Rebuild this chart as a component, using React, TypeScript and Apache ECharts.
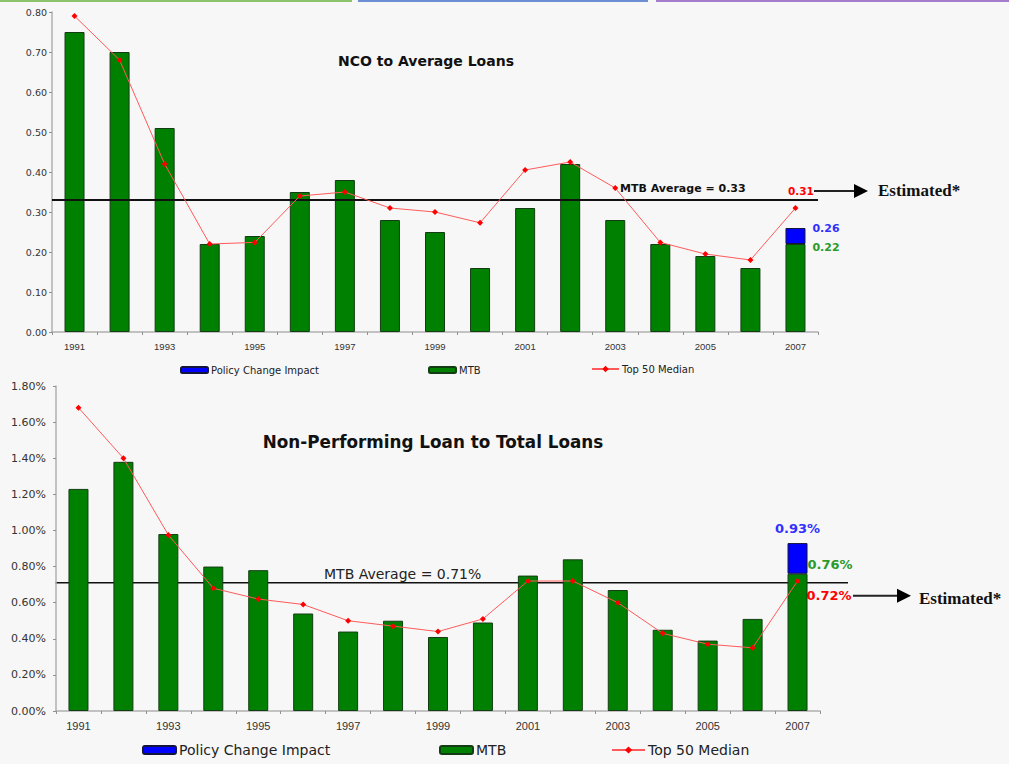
import React, { useEffect, useRef } from "react";
import * as echarts from "echarts";

const years = ["1991", "1992", "1993", "1994", "1995", "1996", "1997", "1998", "1999", "2000", "2001", "2002", "2003", "2004", "2005", "2006", "2007"];

// NCO to Average Loans
const ncoMTB = [0.75, 0.70, 0.51, 0.22, 0.24, 0.35, 0.38, 0.28, 0.25, 0.16, 0.31, 0.42, 0.28, 0.22, 0.19, 0.16, 0.22];
const ncoPolicy = [null, null, null, null, null, null, null, null, null, null, null, null, null, null, null, null, 0.04];
const ncoTop50 = [0.79, 0.68, 0.42, 0.22, 0.224, 0.34, 0.35, 0.31, 0.30, 0.273, 0.405, 0.425, 0.36, 0.224, 0.195, 0.18, 0.31];
const ncoAverage = 0.33;
const ncoLabels = { average: "MTB Average = 0.33", top50: "0.31", total: "0.26", mtb: "0.22" };

// Non-Performing Loan to Total Loans (percent)
const npaMTB = [1.23, 1.38, 0.98, 0.80, 0.78, 0.54, 0.44, 0.50, 0.41, 0.49, 0.75, 0.84, 0.67, 0.45, 0.39, 0.51, 0.76];
const npaPolicy = [null, null, null, null, null, null, null, null, null, null, null, null, null, null, null, null, 0.17];
const npaTop50 = [1.68, 1.40, 0.975, 0.68, 0.62, 0.59, 0.50, 0.47, 0.44, 0.51, 0.72, 0.72, 0.60, 0.43, 0.37, 0.35, 0.72];
const npaAverage = 0.71;
const npaLabels = { average: "MTB Average = 0.71%", top50: "0.72%", total: "0.93%", mtb: "0.76%" };

const titles = ["NCO to Average Loans", "Non-Performing Loan to Total Loans"];
const seriesNames = ["Policy Change Impact", "MTB", "Top 50 Median"];

const GREEN = "#008000";
const BLUE = "#0000ff";
const RED = "#ff0000";
const FONT = "Liberation Sans, Arial, sans-serif";
const WIDE = "DejaVu Sans, Verdana, sans-serif";
const SERIF = "Liberation Serif, Times New Roman, serif";

export default function App() {
  const ref = useRef<HTMLDivElement>(null);

  useEffect(() => {
    if (!ref.current) return;
    const chart = echarts.init(ref.current, undefined, { renderer: "svg" });

    const xAxisFor = (gi: number, fs: number) => ({
      type: "category",
      gridIndex: gi,
      data: years,
      boundaryGap: true,
      axisLine: { lineStyle: { color: "#b0b0b0", width: 1.5 } },
      axisTick: { show: true, interval: 0, length: 3, lineStyle: { color: "#909090" } },
      axisLabel: { interval: 1, fontSize: fs, color: "#333", fontFamily: FONT, margin: 9 },
    });

    const yAxisFor = (gi: number, max: number, interval: number, fs: number, suffix: string, margin: number) => ({
      type: "value",
      gridIndex: gi,
      min: 0,
      max,
      interval,
      axisLine: { show: true, lineStyle: { color: "#b0b0b0", width: 1.5 } },
      axisTick: { show: true, length: 3, lineStyle: { color: "#909090" } },
      splitLine: { show: false },
      axisLabel: {
        fontSize: fs,
        color: "#333",
        fontFamily: WIDE,
        margin,
        formatter: (v: number) => v.toFixed(2) + suffix,
      },
    });

    const barStyle = (color: string) => ({ color, borderColor: "#143c14", borderWidth: 1 });

    const seriesFor = (gi: number, mtb: number[], policy: (number | null)[], top50: number[], avg: number) => [
      {
        name: seriesNames[1],
        type: "bar",
        xAxisIndex: gi,
        yAxisIndex: gi,
        stack: "s" + gi,
        data: mtb,
        barWidth: 20,
        itemStyle: barStyle(GREEN),
        markLine:
          gi === 0
            ? {
                silent: true,
                symbol: "none",
                label: { show: false },
                lineStyle: { color: "#111", width: 2, type: "solid" },
                data: [{ yAxis: avg }],
              }
            : undefined,
      },
      {
        name: seriesNames[0],
        type: "bar",
        xAxisIndex: gi,
        yAxisIndex: gi,
        stack: "s" + gi,
        data: policy,
        barWidth: 20,
        itemStyle: { color: BLUE, borderColor: "#14143c", borderWidth: 1 },
      },
      {
        name: seriesNames[2],
        type: "line",
        xAxisIndex: gi,
        yAxisIndex: gi,
        data: top50,
        symbol: "diamond",
        symbolSize: 6,
        lineStyle: { color: "#ff5a5a", width: 1 },
        itemStyle: { color: RED },
        z: 5,
      },
    ];

    const legendFor = (name: string, left: number, top: number, iw: number, ih: number, fs: number) => ({
      data: [name],
      left,
      top,
      itemWidth: iw,
      itemHeight: ih,
      itemGap: 4,
      selectedMode: false,
      textStyle: { fontSize: fs, color: "#222", fontFamily: WIDE, padding: [0, 0, 0, -2] },
      padding: 0,
    });

    chart.setOption({
      animation: false,
      backgroundColor: "#f7f7f7",
      grid: [
        { left: 52, top: 12, width: 766, height: 320 },
        { left: 56, top: 386, width: 764, height: 325 },
      ],
      xAxis: [xAxisFor(0, 9.5), xAxisFor(1, 11)],
      yAxis: [yAxisFor(0, 0.8, 0.1, 9.5, "", 5), yAxisFor(1, 1.8, 0.2, 11, "%", 10)],
      legend: [
        legendFor(seriesNames[0], 180, 365, 27, 6, 10),
        legendFor(seriesNames[1], 428, 365, 27, 6, 10),
        legendFor(seriesNames[2], 591, 364, 27, 8, 10),
        legendFor(seriesNames[0], 142, 743, 33, 8, 14),
        legendFor(seriesNames[1], 439, 743, 33, 8, 14),
        legendFor(seriesNames[2], 611, 743, 33, 9, 14),
      ],
      series: [
        ...seriesFor(0, ncoMTB, ncoPolicy, ncoTop50, ncoAverage),
        ...seriesFor(1, npaMTB, npaPolicy, npaTop50, npaAverage),
      ],
    });

    const px = (gi: number, cat: string, v: number) =>
      chart.convertToPixel({ xAxisIndex: gi, yAxisIndex: gi }, [cat, v]) as number[];
    const last = years[years.length - 1];

    const txt = (text: string, x: number, y: number, fs: number, color: string, opts: any = {}) => ({
      type: "text",
      x,
      y,
      silent: true,
      style: {
        text,
        fill: color,
        fontSize: fs,
        fontWeight: opts.weight ?? "bold",
        fontFamily: opts.family ?? WIDE,
        align: opts.align ?? "left",
        verticalAlign: "middle",
      },
    });
    const arrow = (x1: number, x2: number, y: number) => [
      { type: "line", silent: true, shape: { x1, y1: y, x2: x2 - 12, y2: y }, style: { stroke: "#222", lineWidth: 2 } },
      {
        type: "polygon",
        silent: true,
        shape: { points: [[x2 - 14, y - 7], [x2, y], [x2 - 14, y + 7]] },
        style: { fill: "#000" },
      },
    ];

    // top chart annotations
    const t07 = px(0, last, 0);
    const tAvgY = px(0, last, ncoAverage)[1];
    const tTotalY = px(0, last, ncoMTB[16] + (ncoPolicy[16] as number))[1];
    const tMtbY = px(0, last, ncoMTB[16])[1];

    // bottom chart annotations
    const b07 = px(1, last, 0);
    const bAvgY = px(1, last, npaAverage)[1];
    const bTotalY = px(1, last, npaMTB[16] + (npaPolicy[16] as number))[1];
    const bMtbY = px(1, last, npaMTB[16])[1];
    const bLeft = px(1, years[0], 0)[0] - 23;

    chart.setOption({
      graphic: [
        { type: "rect", silent: true, shape: { x: 0, y: 0, width: 352, height: 2 }, style: { fill: "#8cc46c" } },
        { type: "rect", silent: true, shape: { x: 358, y: 0, width: 290, height: 2 }, style: { fill: "#6b8fd2" } },
        { type: "rect", silent: true, shape: { x: 656, y: 0, width: 353, height: 2 }, style: { fill: "#a57ccb" } },

        txt(titles[0], 426, 61, 14, "#111", { align: "center" }),
        txt(ncoLabels.average, 620, tAvgY - 12, 11, "#111"),
        txt(ncoLabels.top50, 788, tAvgY - 9, 10.5, RED),
        ...arrow(814, 868, tAvgY - 9),
        txt("Estimated*", 878, tAvgY - 10, 17, "#111", { family: SERIF }),
        txt(ncoLabels.total, t07[0] + 17, tTotalY, 11, "#3030ff"),
        txt(ncoLabels.mtb, t07[0] + 17, tMtbY + 3, 11, "#2a9a2a"),

        txt(titles[1], 433, 442, 16.8, "#111", { align: "center" }),
        {
          type: "line",
          silent: true,
          shape: { x1: bLeft, y1: bAvgY, x2: 848, y2: bAvgY },
          style: { stroke: "#111", lineWidth: 1.5 },
        },
        txt(npaLabels.average, 324, bAvgY - 9, 14, "#222", { weight: "normal" }),
        txt(npaLabels.total, b07[0], bTotalY - 15, 13, "#3030ff", { align: "center" }),
        txt(npaLabels.mtb, b07[0] + 10, bMtbY - 9, 13, "#2a9a2a"),
        txt(npaLabels.top50, b07[0] + 9, bAvgY + 13, 13, RED),
        ...arrow(853, 911, bAvgY + 13),
        txt("Estimated*", 919, bAvgY + 16, 17, "#111", { family: SERIF }),
      ],
    });

    return () => chart.dispose();
  }, []);

  return (
    <div
      ref={ref}
      style={{ position: "absolute", left: 0, top: 0, width: 1009, height: 764 }}
    />
  );
}
